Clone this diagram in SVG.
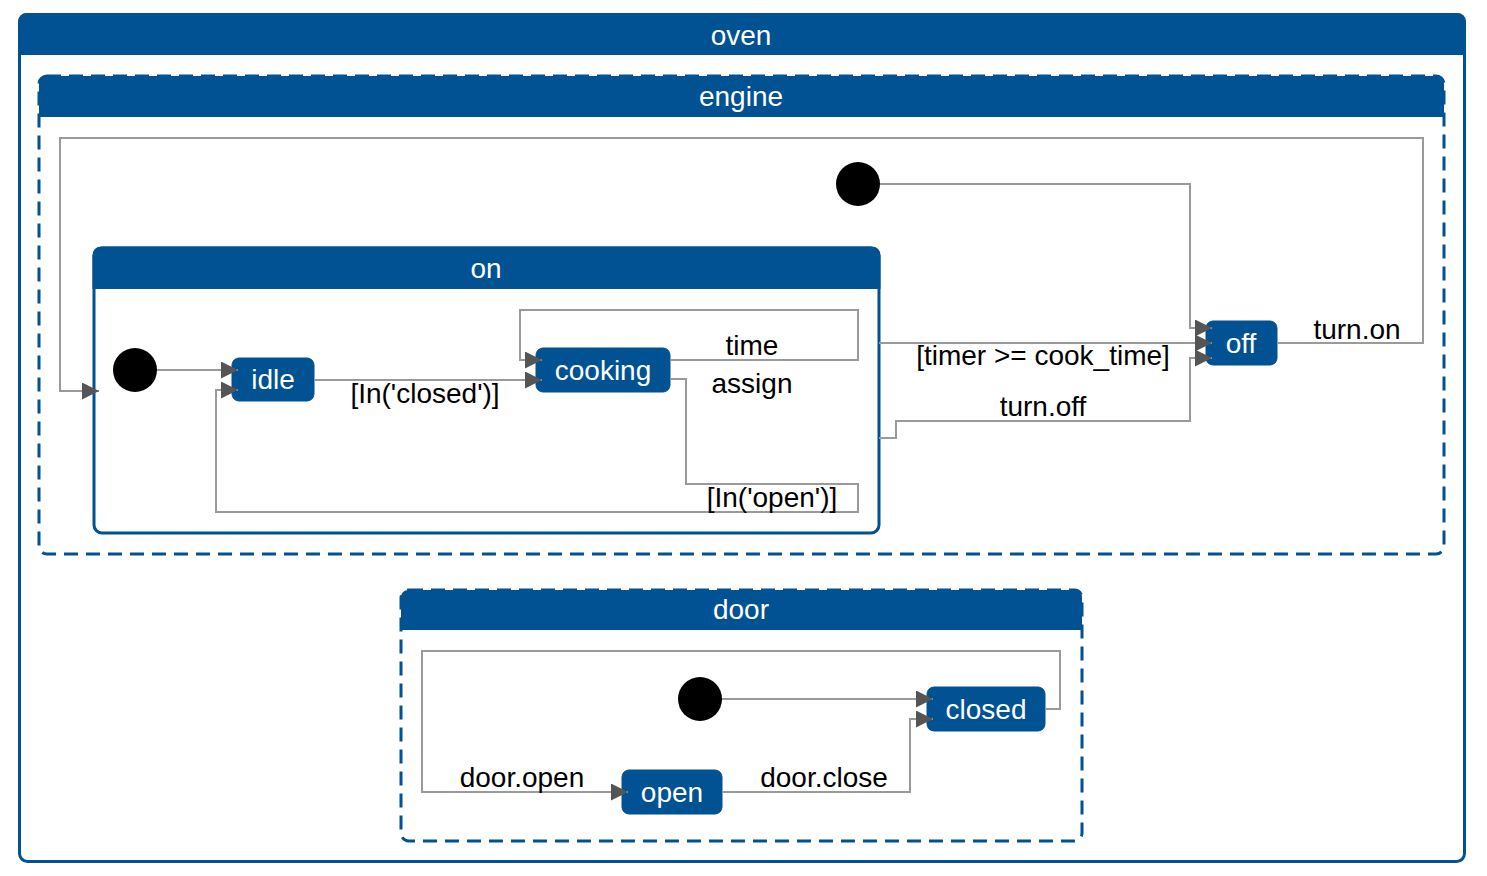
<svg xmlns="http://www.w3.org/2000/svg" width="1487" height="876" viewBox="0 0 1487 876">
<style>
.box{fill:#fff;stroke:#005292;stroke-width:3}
.dash{stroke-dasharray:14 8}
.hdr{fill:#005292}
.ht{fill:#fff;font-family:"Liberation Sans",Arial,sans-serif;font-size:28px;text-anchor:middle}
.node{fill:#005292;stroke:#005292;stroke-width:1}
.nt{fill:#fff;font-family:"Liberation Sans",Arial,sans-serif;font-size:28px;text-anchor:middle}
.init{fill:#000}
.edge{fill:none;stroke:#9a9a9a;stroke-width:2;marker-end:url(#arr)}
.el{fill:#000;font-family:"Liberation Sans",Arial,sans-serif;font-size:28px;text-anchor:middle}
</style>
<defs>
<marker id="arr" markerUnits="userSpaceOnUse" markerWidth="17" markerHeight="17" refX="17" refY="8.5" orient="auto" viewBox="0 0 17 17">
<path d="M0,0 L17,8.5 L0,17 Z" fill="#555"/>
</marker>
</defs>
<rect width="1487" height="876" fill="#fff"/>

<g id="oven">
<rect class="box" x="19.5" y="14.5" width="1445" height="847" rx="8"/>
<path class="hdr" d="M18,55 V22.5 Q18,13 27.5,13 H1456.5 Q1466,13 1466,22.5 V55 Z"/>
<text class="ht" x="741" y="45">oven</text>
</g>

<g id="engine">
<rect class="box dash" x="39" y="76" width="1405" height="478" rx="8"/>
<path class="hdr" d="M39,117 V84 Q39,76 47,76 H1436 Q1444,76 1444,84 V117 Z"/>
<text class="ht" x="741" y="106">engine</text>
</g>

<g id="on">
<rect class="box" x="94" y="248" width="785" height="285" rx="8"/>
<path class="hdr" d="M92.5,289 V256 Q92.5,246.5 102,246.5 H871 Q880.5,246.5 880.5,256 V289 Z"/>
<text class="ht" x="486" y="278">on</text>
</g>

<g id="door">
<rect class="box dash" x="401" y="590" width="681" height="251" rx="8"/>
<path class="hdr" d="M401,630 V598 Q401,590 409,590 H1074 Q1082,590 1082,598 V630 Z"/>
<text class="ht" x="741" y="619">door</text>
</g>

<g id="on_initial"><circle class="init" cx="135" cy="370" r="22"/></g>
<g id="engine_initial"><circle class="init" cx="858" cy="184" r="22"/></g>
<g id="door_initial"><circle class="init" cx="700" cy="699" r="22"/></g>

<g id="idle">
<rect class="node" x="232" y="358" width="82" height="43" rx="7"/>
<text class="nt" x="273" y="389">idle</text>
</g>
<g id="cooking">
<rect class="node" x="536" y="348" width="134" height="44" rx="7"/>
<text class="nt" x="603" y="380">cooking</text>
</g>
<g id="off">
<rect class="node" x="1206" y="321" width="71" height="44" rx="7"/>
<text class="nt" x="1241" y="353">off</text>
</g>
<g id="closed">
<rect class="node" x="927" y="687" width="118" height="44" rx="7"/>
<text class="nt" x="986" y="719">closed</text>
</g>
<g id="open">
<rect class="node" x="622" y="770" width="100" height="44" rx="7"/>
<text class="nt" x="672" y="802">open</text>
</g>

<g id="connectors">
<path class="edge" d="M157,370 H238"/>
<path class="edge" d="M314,380 H542"/>
<path class="edge" d="M670,360 H858 V310 H520 V360 H542"/>
<path class="edge" d="M670,379 H686 V484 H858 V512 H216 V390 H238"/>
<path class="edge" d="M880,184 H1190 V328 H1212"/>
<path class="edge" d="M879,343 H1212"/>
<path class="edge" d="M879,438 H896 V421 H1190 V358 H1212"/>
<path class="edge" d="M1277,343 H1423 V138 H60 V391 H99"/>
<path class="edge" d="M722,699 H933"/>
<path class="edge" d="M722,792 H910 V719 H933"/>
<path class="edge" d="M1045,709 H1060 V651 H422 V792 H628"/>
<text class="el" x="425" y="403">[In('closed')]</text>
<text class="el" x="752" y="355">time</text>
<text class="el" x="752" y="393">assign</text>
<text class="el" x="772" y="507">[In('open')]</text>
<text class="el" x="1043" y="365">[timer &gt;= cook_time]</text>
<text class="el" x="1043" y="416">turn.off</text>
<text class="el" x="1357" y="339">turn.on</text>
<text class="el" x="522" y="787">door.open</text>
<text class="el" x="824" y="787">door.close</text>
</g>
</svg>
